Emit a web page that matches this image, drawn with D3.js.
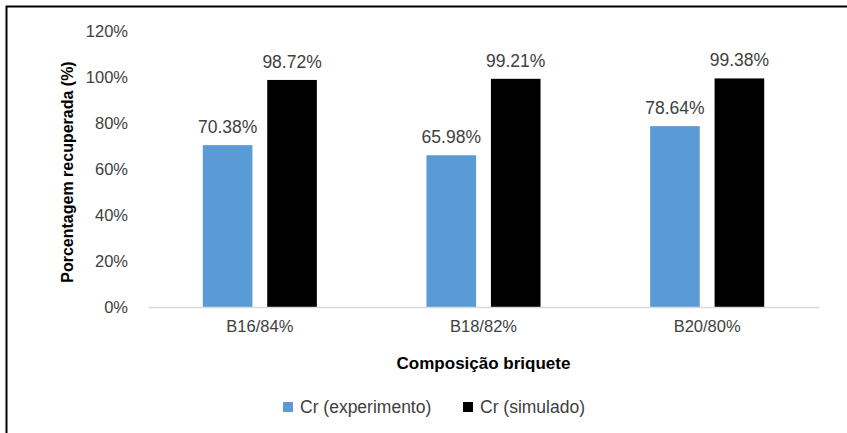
<!DOCTYPE html>
<html><head><meta charset="utf-8">
<script src="https://cdn.jsdelivr.net/npm/d3@7"></script>
<style>body{margin:0;background:#fff;} svg{display:block;}</style>
</head><body>
<script>
const categories = ["B16/84%", "B18/82%", "B20/80%"];
const seriesNames = ["Cr (experimento)", "Cr (simulado)"];
const experimento = [70.38, 65.98, 78.64];
const simulado = [98.72, 99.21, 99.38];
const yTicks = [0, 20, 40, 60, 80, 100, 120];
const colors = ["#5b9bd5", "#000000"];

const W = 847, H = 433;
const font = "'Liberation Sans', Arial, sans-serif";
const svg = d3.select("body").append("svg").attr("width", W).attr("height", H);
svg.append("rect").attr("width", W).attr("height", H).attr("fill", "#fff");
svg.append("path").attr("d", "M6.5,433 V6.5 H847").attr("fill", "none").attr("stroke", "#000").attr("stroke-width", 2);

const m = {left: 148, right: 819, top: 31, bottom: 307};
const x = d3.scaleBand().domain(categories).range([m.left, m.right]).paddingInner(0.49).paddingOuter(0.245);
const x1 = d3.scaleBand().domain(seriesNames).range([0, x.bandwidth()]).paddingInner(0.23);
const y = d3.scaleLinear().domain([0, 120]).range([m.bottom, m.top]);

const yAxis = d3.axisLeft(y).tickValues(yTicks).tickFormat(d => d + "%").tickSize(0).tickPadding(20);
const gy = svg.append("g").attr("transform", `translate(${m.left},0)`).call(yAxis);
gy.select(".domain").remove();
gy.selectAll("text").attr("font-family", font).attr("font-size", 16.5).attr("fill", "#404040");

const data = categories.map((c, i) => ({cat: c, vals: [experimento[i], simulado[i]]}));
const groups = svg.selectAll(".grp").data(data).enter().append("g")
  .attr("transform", d => `translate(${x(d.cat)},0)`);
groups.selectAll("rect").data(d => d.vals.map((v, j) => ({v, s: seriesNames[j], j})))
  .enter().append("rect")
  .attr("x", d => x1(d.s)).attr("width", x1.bandwidth())
  .attr("y", d => y(d.v)).attr("height", d => y(0) - y(d.v))
  .attr("fill", d => colors[d.j]);
groups.selectAll("text.val").data(d => d.vals.map((v, j) => ({v, s: seriesNames[j], j})))
  .enter().append("text").attr("class", "val")
  .attr("x", d => x1(d.s) + x1.bandwidth() / 2).attr("y", d => y(d.v) - 12)
  .attr("text-anchor", "middle").attr("font-family", font).attr("font-size", 17.5).attr("fill", "#404040")
  .text(d => d.v.toFixed(2) + "%");

const xAxis = d3.axisBottom(x).tickSize(0).tickPadding(13);
const gx = svg.append("g").attr("transform", `translate(0,${m.bottom})`).call(xAxis);
gx.select(".domain").attr("stroke", "#d9d9d9").attr("stroke-width", 1.5);
gx.selectAll("text").attr("font-family", font).attr("font-size", 16.5).attr("fill", "#404040");

svg.append("text").attr("x", (m.left + m.right) / 2).attr("y", 369).attr("text-anchor", "middle")
  .attr("font-family", font).attr("font-size", 17).attr("font-weight", "bold").attr("fill", "#000")
  .text("Composição briquete");
svg.append("text").attr("transform", `translate(73,${(m.top + m.bottom) / 2 + 3}) rotate(-90)`)
  .attr("text-anchor", "middle").attr("font-family", font).attr("font-size", 16).attr("font-weight", "bold").attr("fill", "#000")
  .text("Porcentagem recuperada (%)");

const legX = [283, 463];
const leg = svg.selectAll(".leg").data(seriesNames).enter().append("g")
  .attr("transform", (d, i) => `translate(${legX[i]},402)`);
leg.append("rect").attr("width", 10).attr("height", 10).attr("fill", (d, i) => colors[i]);
leg.append("text").attr("x", 17).attr("y", 11).attr("font-family", font).attr("font-size", 17.5).attr("fill", "#404040").text(d => d);
</script>
</body></html>
